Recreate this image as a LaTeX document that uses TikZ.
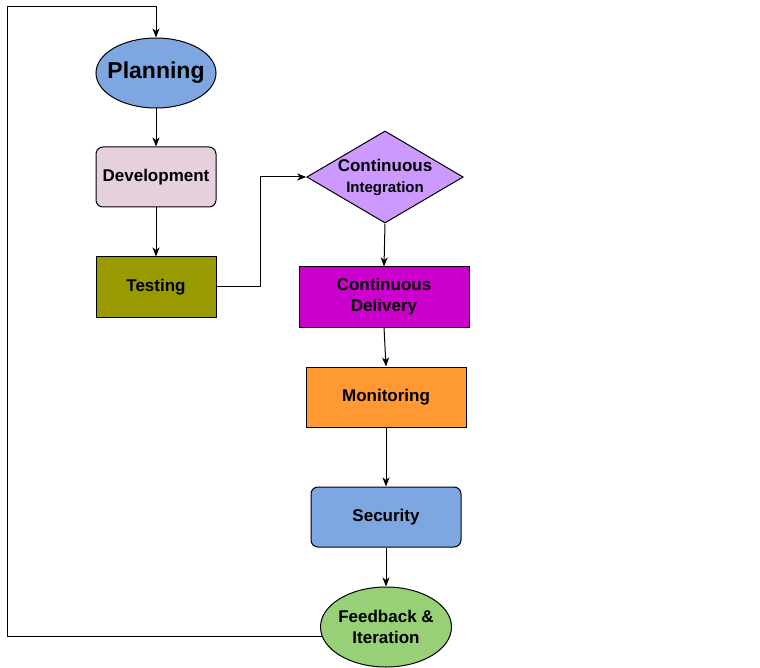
\documentclass[tikz,border=0pt]{standalone}
\usepackage{fontspec}
\setmainfont{Liberation Sans}
\usetikzlibrary{arrows.meta, shapes.geometric}

\definecolor{plan-blue}{HTML}{7EA6E0}
\definecolor{dev-pink}{HTML}{E6D0DE}
\definecolor{test-olive}{HTML}{999900}
\definecolor{ci-violet}{HTML}{CC99FF}
\definecolor{cd-magenta}{HTML}{CC00CC}
\definecolor{mon-orange}{HTML}{FF9933}
\definecolor{fb-green}{HTML}{97D077}

\begin{document}
\begin{tikzpicture}[
        x=1pt,
        y=-1pt,
        stage/.style={
            draw,
            line width=1pt,
            inner sep=0pt,
            align=center,
            font=\bfseries\fontsize{17}{21}\selectfont,
        },
        stage-box/.style={
            stage,
            rectangle,
            minimum width=120pt,
            minimum height=60pt,
        },
        stage-round/.style={
            stage-box,
            rounded corners=7pt,
        },
        stage-oval/.style={
            stage,
            ellipse,
            inner xsep=-15pt,
            inner ysep=-5pt,
        },
        stage-diamond/.style={
            stage,
            diamond,
            aspect=1.7,
        },
        link-flow/.style={
            line width=1pt,
            -{Stealth[length=9pt, width=7pt, inset=2.5pt]},
        },
    ]
    \useasboundingbox (0,0) rectangle (760,668);

    % Stages.
    \node[stage-oval, fill=plan-blue, minimum width=120pt, minimum height=70pt,
          font=\bfseries\fontsize{23}{27}\selectfont] (plan) at (156,73) {Planning};
    \node[stage-round, fill=dev-pink] (dev) at (156,177) {Development};
    \node[stage-box, fill=test-olive] (test) at (156,287) {Testing};
    \node[stage-diamond, fill=ci-violet] (ci) at (385,177)
        {Continuous\\{\fontsize{15}{18}\selectfont Integration}};
    \node[stage-box, fill=cd-magenta, minimum width=170pt] (cd) at (384,297)
        {Continuous\\Delivery};
    \node[stage-box, fill=mon-orange, minimum width=160pt] (mon) at (386,397) {Monitoring};
    \node[stage-round, fill=plan-blue, minimum width=150pt] (sec) at (386,517) {Security};
    \node[stage-oval, fill=fb-green, minimum width=131pt, minimum height=80pt] (fb)
        at (386,627) {Feedback \&\\Iteration};

    % Return path.
    \coordinate (loop) at (7,7);

    % Flow.
    \foreach \a/\b in {plan/dev, dev/test, ci/cd, cd/mon, mon/sec, sec/fb}
    \draw[link-flow] (\a.south) -- (\b.north);

    \draw[link-flow] (test.east) -- ++(44,0) |- (ci.west);
    \draw[link-flow] (fb.188) -| (loop) -| (plan.north);
\end{tikzpicture}
\end{document}
